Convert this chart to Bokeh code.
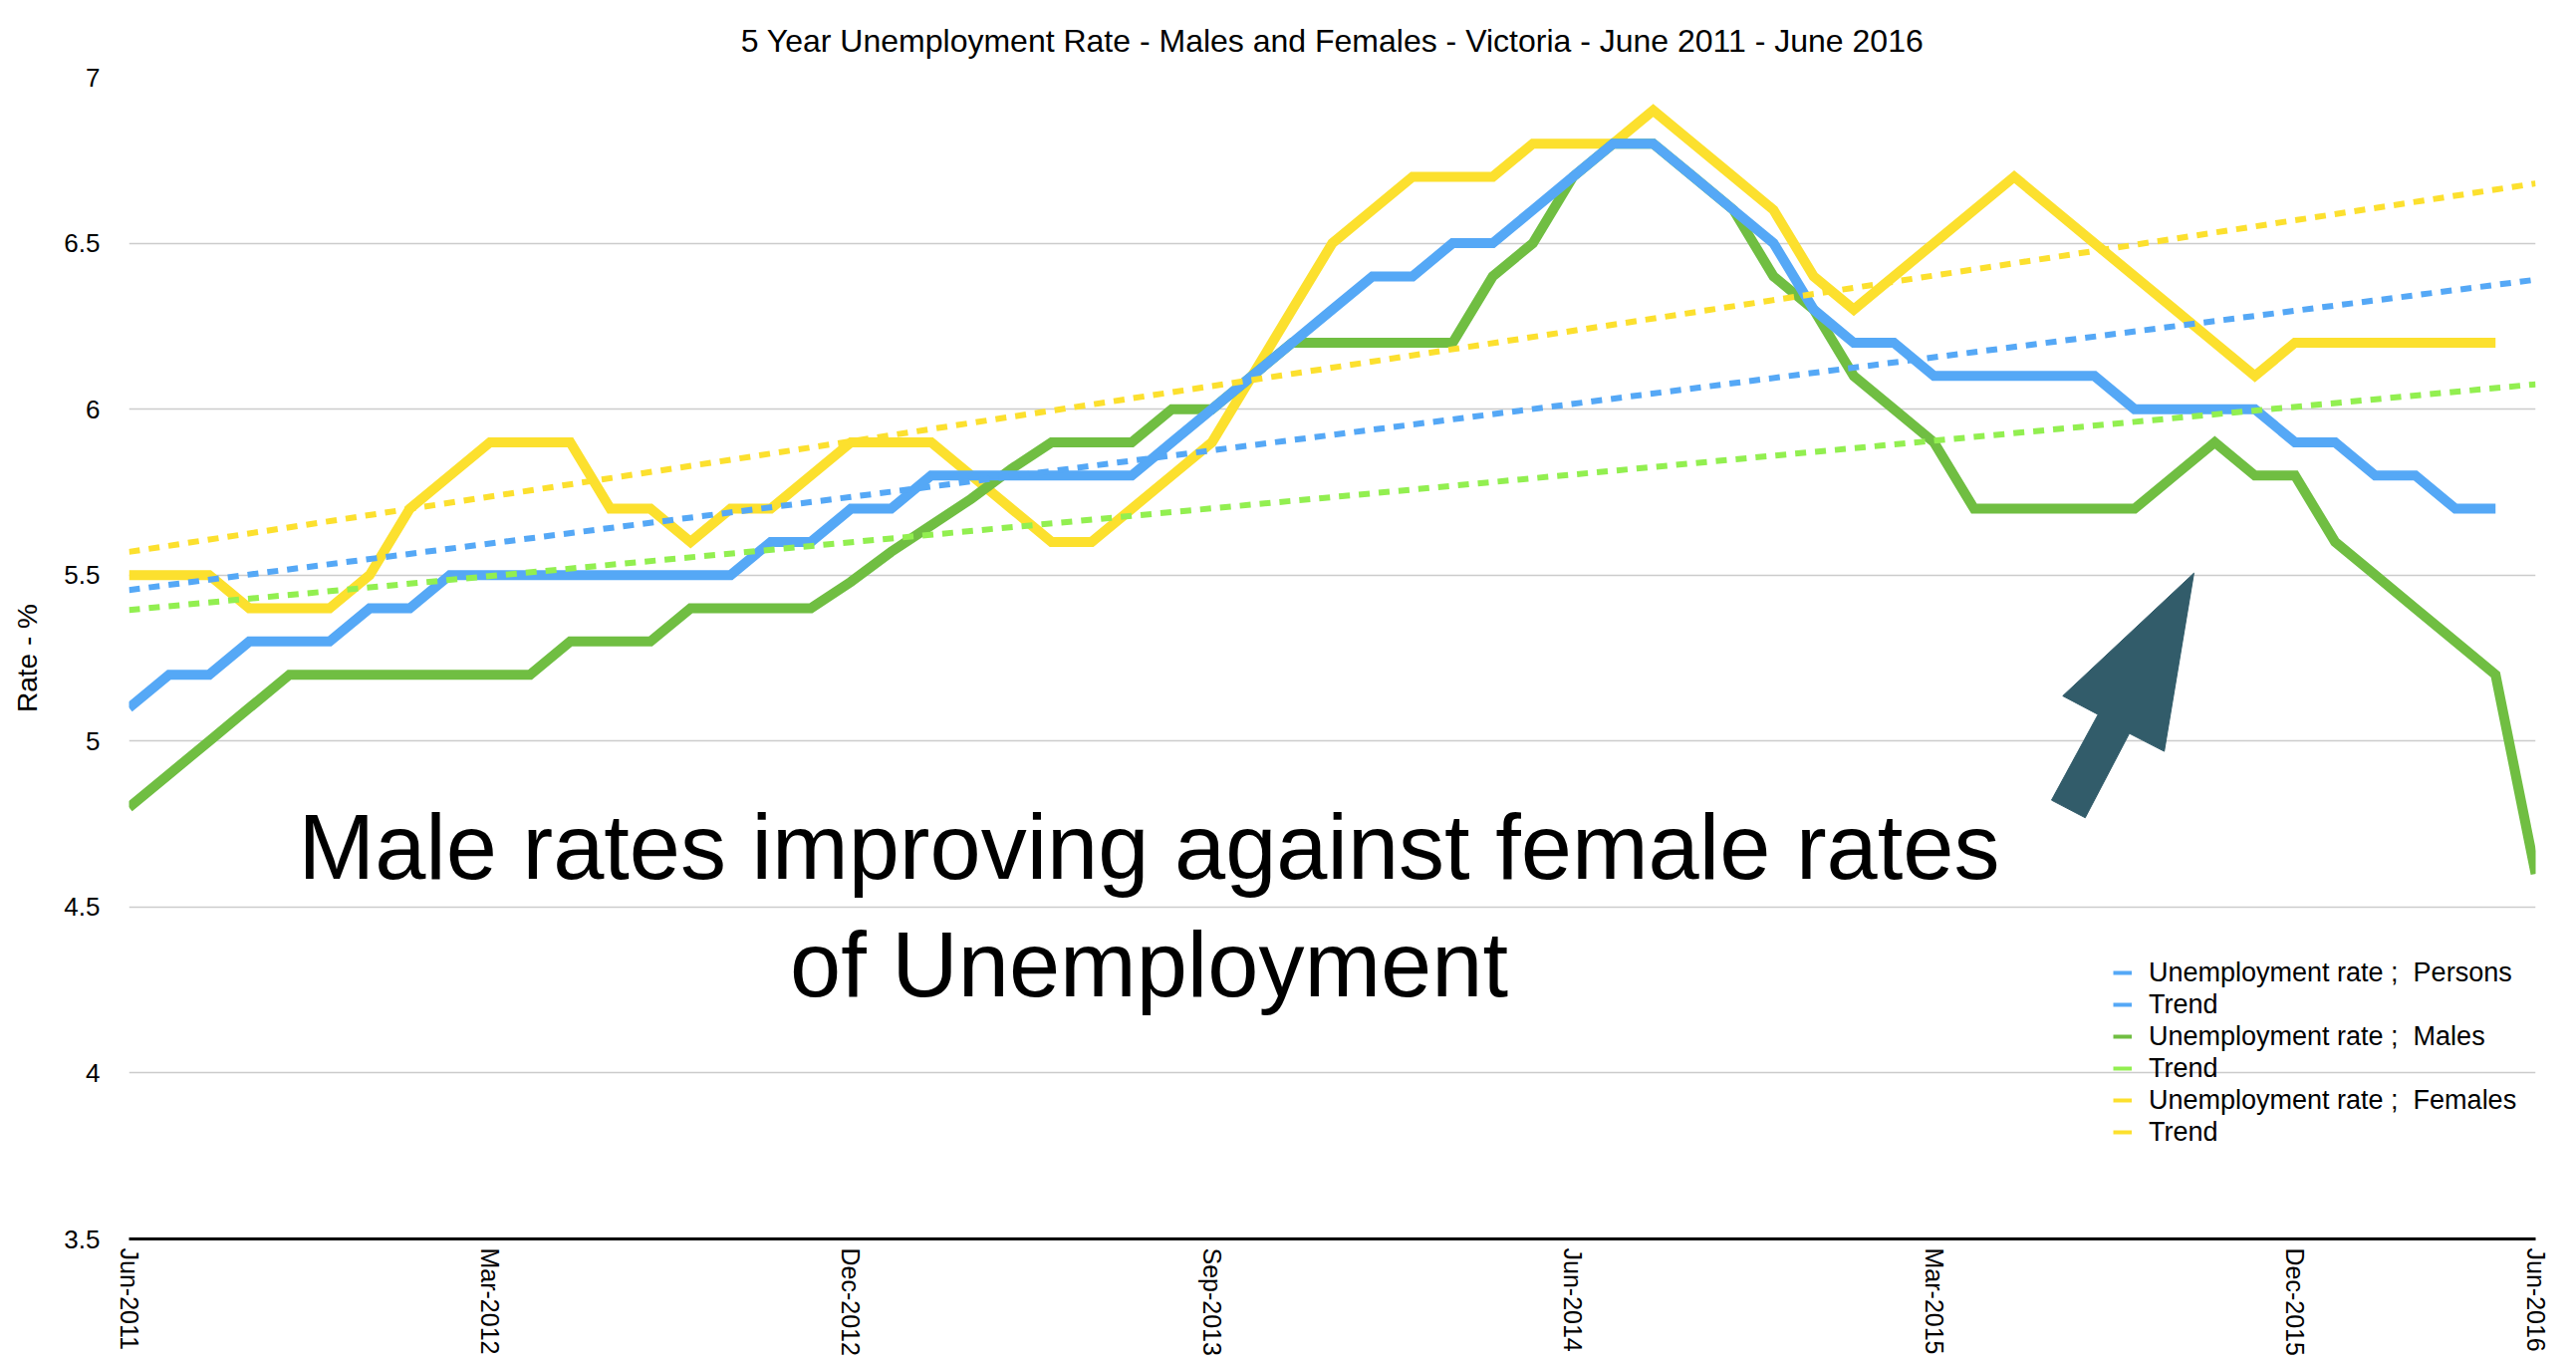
from bokeh.plotting import figure
from bokeh.models import Range1d, FixedTicker, Label, Legend, LegendItem
from bokeh.embed import file_html
from bokeh.resources import INLINE

# ---------------- data ----------------
title_text = "5 Year Unemployment Rate - Males and Females - Victoria - June 2011 - June 2016"
y_axis_title = "Rate - %"

# monthly values, Jun-2011 (index 0) onwards
persons = [5.1, 5.2, 5.2, 5.3, 5.3, 5.3, 5.4, 5.4, 5.5, 5.5,
           5.5, 5.5, 5.5, 5.5, 5.5, 5.5, 5.6, 5.6, 5.7, 5.7,
           5.8, 5.8, 5.8, 5.8, 5.8, 5.8, 5.9, 6.0, 6.1, 6.2,
           6.3, 6.4, 6.4, 6.5, 6.5, 6.6, 6.7, 6.8, 6.8, 6.7,
           6.6, 6.5, 6.3, 6.2, 6.2, 6.1, 6.1, 6.1, 6.1, 6.1,
           6.0, 6.0, 6.0, 6.0, 5.9, 5.9, 5.8, 5.8, 5.7, 5.7]
males = [4.8, 4.9, 5.0, 5.1, 5.2, 5.2, 5.2, 5.2, 5.2, 5.2,
         5.2, 5.3, 5.3, 5.3, 5.4, 5.4, 5.4, 5.4, 5.48, 5.57,
         5.65, 5.73, 5.82, 5.9, 5.9, 5.9, 6.0, 6.0, 6.1, 6.2,
         6.2, 6.2, 6.2, 6.2, 6.4, 6.5, 6.7, 6.8, 6.8, 6.7,
         6.6, 6.4, 6.3, 6.1, 6.0, 5.9, 5.7, 5.7, 5.7, 5.7,
         5.7, 5.8, 5.9, 5.8, 5.8, 5.6, 5.5, 5.4, 5.3, 5.2,
         4.6]
females = [5.5, 5.5, 5.5, 5.4, 5.4, 5.4, 5.5, 5.7, 5.8, 5.9,
           5.9, 5.9, 5.7, 5.7, 5.6, 5.7, 5.7, 5.8, 5.9, 5.9,
           5.9, 5.8, 5.7, 5.6, 5.6, 5.7, 5.8, 5.9, 6.1, 6.3,
           6.5, 6.6, 6.7, 6.7, 6.7, 6.8, 6.8, 6.8, 6.9, 6.8,
           6.7, 6.6, 6.4, 6.3, 6.4, 6.5, 6.6, 6.7, 6.6, 6.5,
           6.4, 6.3, 6.2, 6.1, 6.2, 6.2, 6.2, 6.2, 6.2, 6.2]

# linear trend lines (start Jun-2011, end Jun-2016)
trend_x = [0, 60]
trend_persons = [5.455, 6.39]
trend_males = [5.395, 6.075]
trend_females = [5.57, 6.68]

x_tick_pos = [0, 9, 18, 27, 36, 45, 54, 60]
x_tick_labels = ["Jun-2011", "Mar-2012", "Dec-2012", "Sep-2013",
                 "Jun-2014", "Mar-2015", "Dec-2015", "Jun-2016"]
y_ticks = [3.5, 4, 4.5, 5, 5.5, 6, 6.5, 7]
y_tick_labels = ["3.5", "4", "4.5", "5", "5.5", "6", "6.5", "7"]

legend_labels = ["Unemployment rate ;  Persons", "Trend",
                 "Unemployment rate ;  Males", "Trend",
                 "Unemployment rate ;  Females", "Trend"]

note_lines = ["Male rates improving against female rates", "of Unemployment"]

# arrow annotation outline (month index, rate)
arrow_month = [51.48, 48.21, 49.09, 47.93, 48.77, 49.87, 50.74]
arrow_rate = [5.506, 5.136, 5.080, 4.822, 4.769, 5.023, 4.969]

# ---------------- style ----------------
FONT = "Liberation Sans"
BLUE = "#55a8f6"
GREEN = "#70be42"
GREEN_T = "#92ef50"
YELLOW = "#fce02e"
ARROW = "#325c6a"

W, H = 2584, 1365
p = figure(width=W, height=H, output_backend="svg", toolbar_location=None,
           x_range=Range1d(0, 60), y_range=Range1d(3.5, 7.0),
           min_border_left=129, min_border_right=W - 2545,
           min_border_top=77, min_border_bottom=H - 1243,
           title=title_text)
p.outline_line_color = None
p.background_fill_color = "white"
p.border_fill_color = "white"

p.title.align = "center"
p.title.vertical_align = "bottom"
p.title.text_font = FONT
p.title.text_font_size = "32px"
p.title.text_font_style = "normal"
p.title.text_color = "black"
p.title.standoff = 38

# axes
p.xaxis.ticker = FixedTicker(ticks=x_tick_pos)
p.xaxis.major_label_overrides = {t: l for t, l in zip(x_tick_pos, x_tick_labels)}
p.xaxis.major_label_orientation = "vertical"
p.xaxis.major_label_text_font = FONT
p.xaxis.major_label_text_font_size = "25px"
p.xaxis.major_label_text_color = "black"
p.xaxis.major_label_standoff = 9
p.xaxis.major_tick_in = 0
p.xaxis.major_tick_out = 0
p.xaxis.minor_tick_in = 0
p.xaxis.minor_tick_out = 0
p.xaxis.major_tick_line_color = None
p.xaxis.minor_tick_line_color = None
p.xaxis.axis_line_color = "black"
p.xaxis.axis_line_width = 3

p.yaxis.ticker = FixedTicker(ticks=y_ticks)
p.yaxis.major_label_overrides = {t: l for t, l in zip(y_ticks, y_tick_labels)}
p.yaxis.major_label_text_font = FONT
p.yaxis.major_label_text_font_size = "26px"
p.yaxis.major_label_text_color = "black"
p.yaxis.major_label_standoff = 29
p.yaxis.major_tick_in = 0
p.yaxis.major_tick_out = 0
p.yaxis.minor_tick_in = 0
p.yaxis.minor_tick_out = 0
p.yaxis.major_tick_line_color = None
p.yaxis.minor_tick_line_color = None
p.yaxis.axis_line_color = None
p.yaxis.axis_label = y_axis_title
p.yaxis.axis_label_text_font = FONT
p.yaxis.axis_label_text_font_size = "28px"
p.yaxis.axis_label_text_font_style = "normal"
p.yaxis.axis_label_text_color = "black"
p.yaxis.axis_label_standoff = 18

p.xgrid.grid_line_color = None
p.ygrid.grid_line_color = "#cccccc"
p.ygrid.grid_line_width = 1.5

# series lines (yellow bottom, blue on top)
xf = list(range(len(females)))
xm = list(range(len(males)))
xp = list(range(len(persons)))
p.line(xf, females, line_color=YELLOW, line_width=10, line_join="miter")
p.line(xm, males, line_color=GREEN, line_width=10, line_join="miter")
p.line(xp, persons, line_color=BLUE, line_width=10, line_join="miter")

# trend lines on top
p.line(trend_x, trend_females, line_color=YELLOW, line_width=6, line_dash="11 9")
p.line(trend_x, trend_persons, line_color=BLUE, line_width=6, line_dash="11 9")
p.line(trend_x, trend_males, line_color=GREEN_T, line_width=6, line_dash="11 9")

# arrow annotation
p.patch(arrow_month, arrow_rate, fill_color=ARROW, line_color=ARROW, line_width=1)

# big note
for txt, yy in zip(note_lines, [4.68, 4.327]):
    p.add_layout(Label(x=25.43, y=yy, text=txt, text_align="center",
                       text_baseline="alphabetic", text_font=FONT,
                       text_font_size="92px", text_color="black"))

# legend with short swatches (swatch-only renderers hold no visible points)
nan = float("nan")
legend_colors = [BLUE, BLUE, GREEN, GREEN_T, YELLOW, YELLOW]
items = []
for lab, col in zip(legend_labels, legend_colors):
    r = p.line([nan, nan], [nan, nan], line_color=col, line_width=4)
    items.append(LegendItem(label=lab, renderers=[r]))
legend = Legend(items=items, location=(1992, 91), padding=0, margin=0, spacing=0,
                label_height=32, glyph_height=32, glyph_width=19, label_standoff=17,
                border_line_color=None, background_fill_alpha=0,
                label_text_font=FONT, label_text_font_size="27px",
                label_text_color="black", label_text_baseline="middle")
p.add_layout(legend)

open("out.html", "w").write(file_html(p, INLINE))
